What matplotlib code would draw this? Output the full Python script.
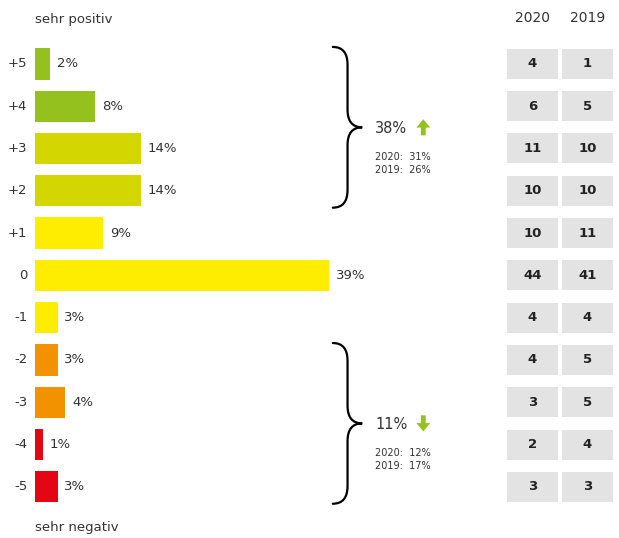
import matplotlib.pyplot as plt
import numpy as np
from matplotlib.path import Path
from matplotlib.patches import PathPatch

plt.rcParams['font.family'] = ['DejaVu Sans']

scale = ['+5', '+4', '+3', '+2', '+1', '0', '-1', '-2', '-3', '-4', '-5']
share_2021 = [2, 8, 14, 14, 9, 39, 3, 3, 4, 1, 3]
share_2020 = [4, 6, 11, 10, 10, 44, 4, 4, 3, 2, 3]
share_2019 = [1, 5, 10, 10, 11, 41, 4, 5, 5, 4, 3]
years = ['2020', '2019']

# positive / negative groups: rows, total now, totals in earlier years
groups = [
    dict(rows=(0, 3), total='38%', up=True, prev=['2020:  31%', '2019:  26%']),
    dict(rows=(7, 10), total='11%', up=False, prev=['2020:  12%', '2019:  17%']),
]

green = '#95c11f'
olive = '#d4d600'
yellow = '#ffed00'
orange = '#f39200'
red = '#e30613'
colors = [green, green, olive, olive, yellow, yellow, yellow, orange, orange, red, red]
txt = '#333333'

fig = plt.figure(figsize=(6.19, 5.38), dpi=100)
ax = fig.add_axes([0, 0, 1, 1])
ax.set_xlim(-4.64, 77.45)
ax.set_ylim(11.21, -1.51)
ax.axis('off')

rows = np.arange(len(scale))
bh = 0.74
ax.barh(rows, share_2021, height=bh, color=colors)
for r, v, lab in zip(rows, share_2021, scale):
    ax.text(v + 0.9, r, f'{v}%', va='center', ha='left', fontsize=9.5, color=txt)
    ax.text(-1.0, r, lab, va='center', ha='right', fontsize=9.5, color=txt)

ax.text(0, -1.04, 'sehr positiv', va='center', ha='left', fontsize=9.5, color=txt)
ax.text(0, 10.95, 'sehr negativ', va='center', ha='left', fontsize=9.5, color=txt)


def brace(ax, x0, x1, y0, y1):
    w = x1 - x0
    h = y1 - y0
    xm = x0 + 0.5 * w
    ym = y0 + 0.5 * h
    c = 0.11 * h
    verts = [(x0, y0), (xm, y0), (xm, y0 + c),
             (xm, ym - c), (xm, ym), (x1, ym),
             (xm, ym), (xm, ym + c),
             (xm, y1 - c), (xm, y1), (x0, y1)]
    codes = [Path.MOVETO, Path.CURVE3, Path.CURVE3,
             Path.LINETO, Path.CURVE3, Path.CURVE3,
             Path.CURVE3, Path.CURVE3,
             Path.LINETO, Path.CURVE3, Path.CURVE3]
    ax.add_patch(PathPatch(Path(verts, codes), fill=False, lw=1.6,
                           edgecolor='black', capstyle='round'))


arrow = dict(arrowstyle='simple,head_length=0.6,head_width=1.0,tail_width=0.35',
             color=green, lw=0, mutation_scale=10, shrinkA=0, shrinkB=0)
for g in groups:
    r0, r1 = g['rows']
    y0 = r0 - bh / 2 - 0.03
    y1 = r1 + bh / 2 + 0.03
    brace(ax, 39.5, 43.4, y0, y1)
    ym = (y0 + y1) / 2
    ax.text(45.1, ym + 0.03, g['total'], va='center', ha='left', fontsize=10.5, color=txt)
    if g['up']:
        ax.annotate('', xy=(51.5, ym - 0.19), xytext=(51.5, ym + 0.19), arrowprops=arrow)
    else:
        ax.annotate('', xy=(51.5, ym + 0.19), xytext=(51.5, ym - 0.19), arrowprops=arrow)
    for k, line in enumerate(g['prev']):
        ax.text(45.1, ym + 0.7 + 0.31 * k, line, va='center', ha='left', fontsize=7, color=txt)

# table of previous years
ax2 = fig.add_axes([505 / 619, 0, 110 / 619, 1])
ax2.set_xlim(0, 2)
ax2.set_ylim(11.21, -1.51)
ax2.axis('off')
cw = 0.945
for j, (yr, vals) in enumerate(zip(years, [share_2020, share_2019])):
    xc = j + 0.5
    ax2.barh(rows, cw, left=xc - cw / 2, height=0.71, color='#e3e3e3')
    for r, v in zip(rows, vals):
        ax2.text(xc, r, str(v), va='center', ha='center', fontsize=9.5,
                 fontweight='bold', color='#222222')
    ax2.text(xc, -1.09, yr, va='center', ha='center', fontsize=10, color=txt)

fig.savefig('out.png', dpi=100)
